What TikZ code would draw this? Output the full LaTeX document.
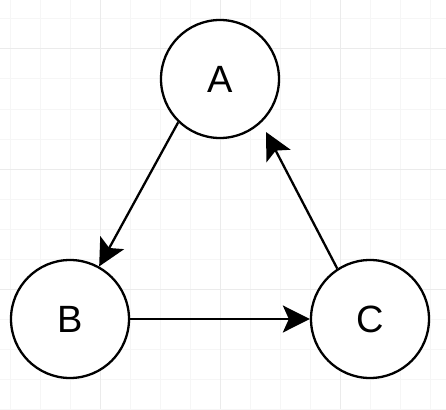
\documentclass[tikz,border=0pt]{standalone}
\usepackage{fontspec}
\setmainfont{Liberation Sans}
\usetikzlibrary{arrows.meta,calc}
\definecolor{gridminor}{HTML}{F6F6F6}
\definecolor{gridmajor}{HTML}{EBEBEB}
\tikzset{
  vertex/.style={circle,draw=black,line width=2.3pt,fill=white,minimum size=118pt,inner sep=0pt,
    font=\fontsize{38}{42}\selectfont},
  arr/.style={line width=2.3pt,-{Stealth[length=27pt,width=27pt,inset=6pt]}},
}
\begin{document}
\begin{tikzpicture}[x=1pt,y=-1pt]
\useasboundingbox (0,0) rectangle (446,409);
\fill[white] (0,0) rectangle (446,409);
% grid
\foreach \x in {10,40,...,430} \draw[gridminor,line width=1pt] (\x,0) -- (\x,409);
\foreach \y in {19,49,...,409} \draw[gridminor,line width=1pt] (0,\y) -- (446,\y);
\foreach \x in {100,220,340} \draw[gridmajor,line width=1pt] (\x,0) -- (\x,409);
\foreach \y in {49,169,289} \draw[gridmajor,line width=1pt] (0,\y) -- (446,\y);
% nodes
\node[vertex] (A) at (220,79) {A};
\node[vertex] (B) at (70,319) {B};
\node[vertex] (C) at (370,319) {C};
\coordinate (Atip) at ($(A.center)+(46,53)$);
% edges
\draw[arr] (A.226) -- (B.61);
\draw[arr] (B.east) -- (C.west);
\draw[arr] (C.123) -- (Atip);
\end{tikzpicture}
\end{document}
